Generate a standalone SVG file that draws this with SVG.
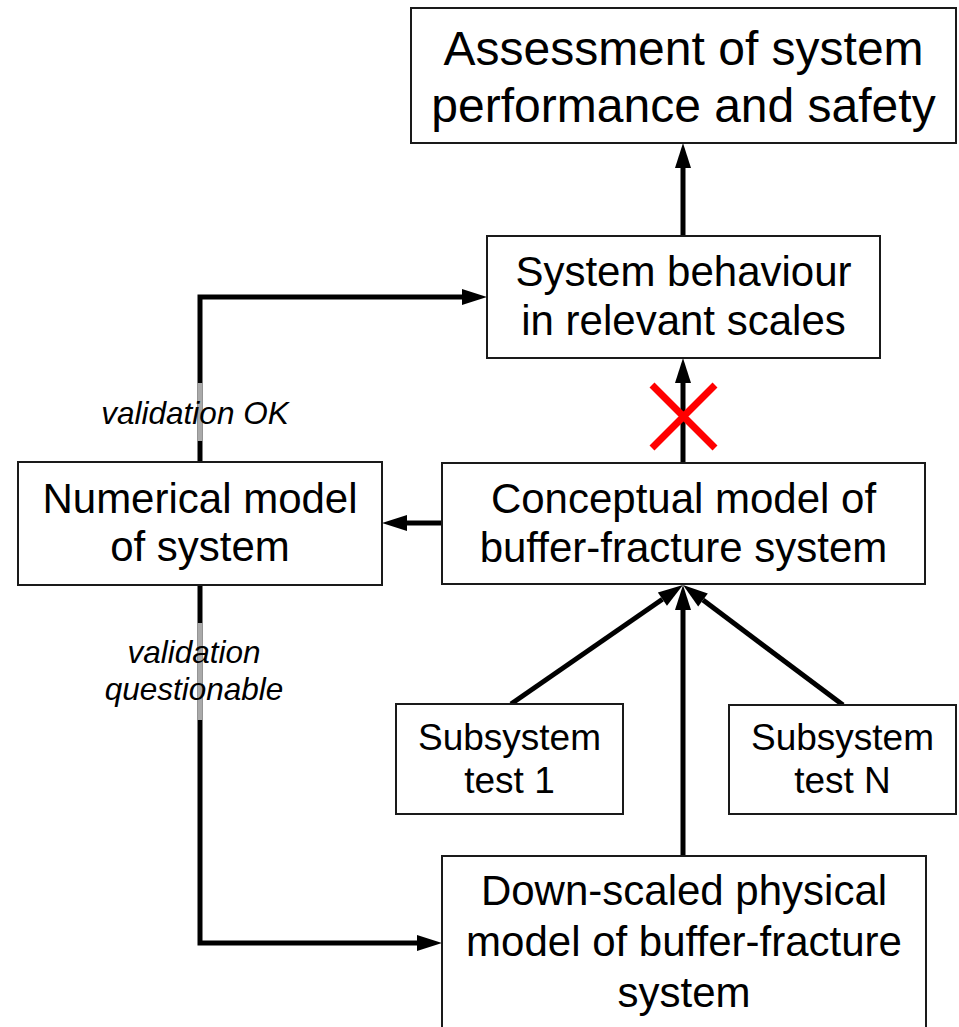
<svg xmlns="http://www.w3.org/2000/svg" width="959" height="1027" viewBox="0 0 959 1027">
<defs>
<marker id="ah" markerUnits="userSpaceOnUse" markerWidth="26" markerHeight="16" refX="0" refY="8" orient="auto" overflow="visible">
<path d="M0,0 L25,8 L0,16 z" fill="#000"/>
</marker>
<style>
.box{fill:#fff;stroke:#1a1a1a;stroke-width:2}
.t{font-family:"Liberation Sans",Arial,sans-serif;fill:#000;text-anchor:middle}
.big{font-size:48px}
.mid{font-size:42px}
.sm{font-size:37px}
.lbl{font-family:"Liberation Sans",Arial,sans-serif;font-style:italic;font-size:31.5px;fill:#000;text-anchor:middle}
.c{fill:none;stroke:#000;stroke-width:5}
.g{fill:none;stroke:#aaa;stroke-width:5}
.x{stroke:#ff0000;stroke-width:7;fill:none}
</style>
</defs>
<rect width="959" height="1027" fill="#fff"/>
<g id="connectors">
<line class="c" x1="683" y1="236" x2="683" y2="168" marker-end="url(#ah)"/>
<line class="c" x1="683" y1="463" x2="683" y2="383" marker-end="url(#ah)"/>
<line class="c" x1="442" y1="523" x2="407" y2="523" marker-end="url(#ah)"/>
<path class="c" d="M200,462 V297 H462" marker-end="url(#ah)"/>
<line class="g" x1="200" y1="383" x2="200" y2="441"/>
<path class="c" d="M200,585 V943 H417" marker-end="url(#ah)"/>
<line class="g" x1="200" y1="623" x2="200" y2="720"/>
<line class="c" x1="683" y1="856" x2="683" y2="610" marker-end="url(#ah)"/>
<line class="c" x1="511" y1="704" x2="662.4" y2="599.2" marker-end="url(#ah)"/>
<line class="c" x1="843" y1="705" x2="703" y2="600" marker-end="url(#ah)"/>
</g>
<g id="label-ok"><text class="lbl" x="195" y="424">validation OK</text></g>
<g id="label-questionable"><text class="lbl" x="194" y="663">validation</text><text class="lbl" x="194" y="700">questionable</text></g>
<g id="cross"><path class="x" d="M652,385 L715,448 M715,385 L652,448"/></g>
<g id="assessment">
<rect class="box" x="411" y="8" width="545" height="135"/>
<text class="t big" x="683.5" y="65">Assessment of system</text>
<text class="t big" x="683.5" y="122">performance and safety</text>
</g>
<g id="system-behaviour">
<rect class="box" x="487" y="236" width="393" height="122"/>
<text class="t mid" x="683.5" y="286">System behaviour</text>
<text class="t mid" x="683.5" y="335">in relevant scales</text>
</g>
<g id="numerical-model">
<rect class="box" x="18" y="462" width="364" height="123"/>
<text class="t mid" x="200" y="513">Numerical model</text>
<text class="t mid" x="200" y="561">of system</text>
</g>
<g id="conceptual-model">
<rect class="box" x="442" y="463" width="483" height="121"/>
<text class="t mid" x="683.5" y="513">Conceptual model of</text>
<text class="t mid" x="683.5" y="562">buffer-fracture system</text>
</g>
<g id="subsystem-1">
<rect class="box" x="396" y="704" width="227" height="110"/>
<text class="t sm" x="509.5" y="750">Subsystem</text>
<text class="t sm" x="509.5" y="793">test 1</text>
</g>
<g id="subsystem-n">
<rect class="box" x="729" y="705" width="227" height="109"/>
<text class="t sm" x="842.5" y="750">Subsystem</text>
<text class="t sm" x="842.5" y="793">test N</text>
</g>
<g id="down-scaled-model">
<rect class="box" x="442" y="856" width="484" height="190"/>
<text class="t mid" x="684" y="905">Down-scaled physical</text>
<text class="t mid" x="684" y="956">model of buffer-fracture</text>
<text class="t mid" x="684" y="1007">system</text>
</g>
</svg>
